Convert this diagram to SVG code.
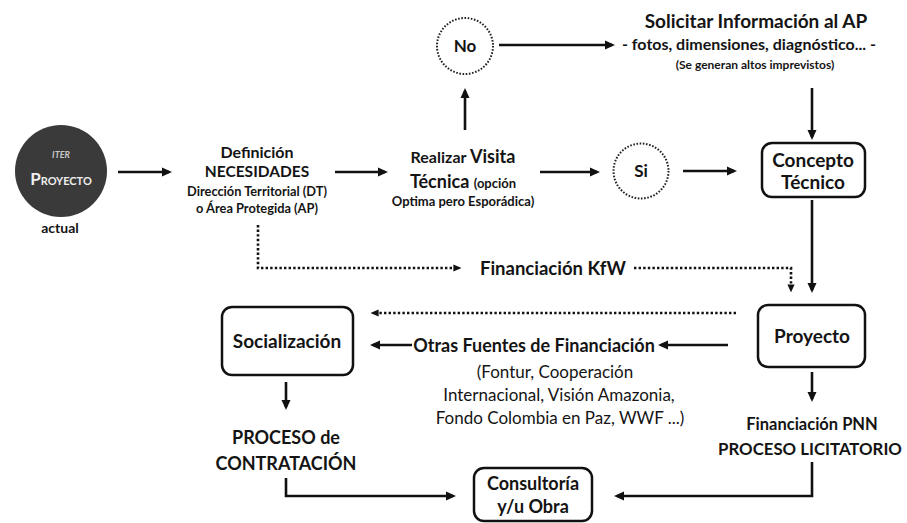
<svg xmlns="http://www.w3.org/2000/svg" width="907" height="523" viewBox="0 0 907 523">
<defs>
<marker id="ah" viewBox="0 0 10 10" refX="7" refY="5" markerWidth="10" markerHeight="10" markerUnits="userSpaceOnUse" orient="auto"><path d="M0,0.5 L10,5 L0,9.5 z" fill="#111"/></marker>
<marker id="ahs" viewBox="0 0 10 10" refX="7" refY="5" markerWidth="8" markerHeight="8" markerUnits="userSpaceOnUse" orient="auto"><path d="M0,0.5 L10,5 L0,9.5 z" fill="#111"/></marker>
<style>
text{font-family:Lato,"Liberation Sans",sans-serif;fill:#141414;text-anchor:middle;font-weight:bold}
.n{font-weight:normal}
.box{fill:#fff;stroke:#111;stroke-width:2.5}
.dc{fill:none;stroke:#222;stroke-width:2;stroke-dasharray:1.6 1.6}
.c{fill:none;stroke:#111;stroke-width:2.6;marker-end:url(#ah)}
.d{fill:none;stroke:#111;stroke-width:2.6;stroke-dasharray:2.4 2.2;marker-end:url(#ahs)}
</style>
</defs>
<rect width="907" height="523" fill="#fff"/>

<g id="iter">
<circle cx="61" cy="171" r="46" fill="#3a3a3a"/>
<text x="61" y="158" style="font-size:9px;font-style:italic;fill:#c8c8c8">ITER</text>
<text x="61" y="185" style="fill:#eeeeee"><tspan style="font-size:17px">P</tspan><tspan style="font-size:11px">ROYECTO</tspan></text>
<text x="60" y="233" style="font-size:14px">actual</text>
</g>

<g id="definicion">
<text x="257" y="158" style="font-size:16px">Definición</text>
<text x="257" y="177" style="font-size:15.5px">NECESIDADES</text>
<text x="257" y="196" style="font-size:12.8px">Dirección Territorial (DT)</text>
<text x="257" y="213" style="font-size:12.8px">o Área Protegida (AP)</text>
</g>

<g id="visita">
<text x="463" y="163"><tspan style="font-size:16px">Realizar </tspan><tspan style="font-size:18px">Visita</tspan></text>
<text x="463" y="188"><tspan style="font-size:18px">Técnica </tspan><tspan style="font-size:13px">(opción</tspan></text>
<text x="463" y="206" style="font-size:13px">Optima pero Esporádica)</text>
</g>

<g id="no">
<circle class="dc" cx="465" cy="46" r="28"/>
<text x="465" y="52" style="font-size:17px">No</text>
</g>

<g id="si">
<circle class="dc" cx="641" cy="171" r="27.5"/>
<text x="641" y="177" style="font-size:17px">Si</text>
</g>

<g id="solicitar">
<text x="756" y="28" style="font-size:19px">Solicitar Información al AP</text>
<text x="749" y="50" style="font-size:16px">- fotos, dimensiones, diagnóstico... -</text>
<text x="755" y="69" style="font-size:12px">(Se generan altos imprevistos)</text>
</g>

<g id="concepto">
<rect class="box" x="762" y="143" width="103" height="54" rx="10"/>
<text x="813" y="167" style="font-size:19px">Concepto</text>
<text x="813" y="189" style="font-size:19px">Técnico</text>
</g>

<g id="kfw">
<text x="553" y="275" style="font-size:18.5px">Financiación KfW</text>
</g>

<g id="proyecto">
<rect class="box" x="758" y="305" width="107" height="62" rx="10"/>
<text x="812" y="343" style="font-size:19px">Proyecto</text>
</g>

<g id="socializacion">
<rect class="box" x="222" y="307" width="131" height="68" rx="10"/>
<text x="287" y="348" style="font-size:19px">Socialización</text>
</g>

<g id="otras">
<text x="534" y="352" style="font-size:18px">Otras Fuentes de Financiación</text>
<text class="n" x="555" y="378" style="font-size:17px">(Fontur, Cooperación</text>
<text class="n" x="559" y="401" style="font-size:17px">Internacional, Visión Amazonia,</text>
<text class="n" x="560" y="424" style="font-size:17px">Fondo Colombia en Paz, WWF ...)</text>
</g>

<g id="contratacion">
<text x="286" y="444" style="font-size:18px">PROCESO de</text>
<text x="286" y="470" style="font-size:18px">CONTRATACIÓN</text>
</g>

<g id="pnn">
<text x="812" y="430" style="font-size:16.5px">Financiación PNN</text>
<text x="810" y="455" style="font-size:16.8px">PROCESO LICITATORIO</text>
</g>

<g id="consultoria">
<rect class="box" x="474" y="468" width="118" height="53" rx="10"/>
<text x="533" y="490" style="font-size:18px">Consultoría</text>
<text x="533" y="513" style="font-size:18px">y/u Obra</text>
</g>

<g id="connectors">
<path class="c" d="M118,172 H169"/>
<path class="c" d="M335,172 H385"/>
<path class="c" d="M540,172 H597"/>
<path class="c" d="M683,171 H734"/>
<path class="c" d="M465,130 V91"/>
<path class="c" d="M499,45 H612"/>
<path class="c" d="M812,88 V137"/>
<path class="c" d="M812,200 V290"/>
<path class="d" d="M258,225 V268 H459"/>
<path class="d" d="M634,268 H791 V290"/>
<path class="d" d="M736,313 H373"/>
<path class="c" d="M728,345 H661"/>
<path class="c" d="M412,345 H373"/>
<path class="c" d="M286,382 V407"/>
<path class="c" d="M812,372 V399"/>
<path class="c" d="M286,478 V496 H453"/>
<path class="c" d="M812,462 V496 H617"/>
</g>
</svg>
